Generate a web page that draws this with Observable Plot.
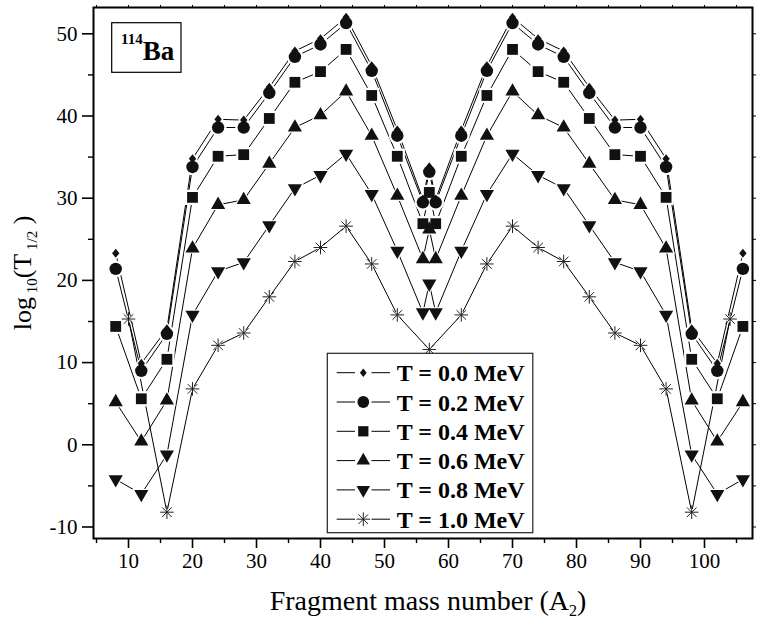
<!DOCTYPE html>
<html><head><meta charset="utf-8">
<script src="https://cdn.jsdelivr.net/npm/d3@7"></script>
<script src="https://cdn.jsdelivr.net/npm/@observablehq/plot@0.6"></script>
<style>body{margin:0;background:#fff} svg{display:block} svg text{font-family:"Liberation Serif","DejaVu Serif",serif !important;}</style>
</head><body><div id="chart"></div>
<script>
const seriesLabels = ["T = 0.0 MeV","T = 0.2 MeV","T = 0.4 MeV","T = 0.6 MeV","T = 0.8 MeV","T = 1.0 MeV"];
const massNumbers = [8,12,16,20,24,28,32,36,40,44,48,52,56,57,58,62,66,70,74,78,82,86,90,94,98,102,106];
const logT00 = [23.3,9.9,14.1,34.8,39.6,39.5,43.5,47.9,49.4,52.0,46.1,38.3,29.9,33.8,29.9,38.3,46.1,52.0,49.4,47.9,43.5,39.5,39.6,34.8,14.1,9.9,23.3];
const logT02 = [21.4,9.0,13.5,33.8,38.6,38.6,42.8,47.2,48.7,51.3,45.5,37.6,29.5,33.2,29.5,37.6,45.5,51.3,48.7,47.2,42.8,38.6,38.6,33.8,13.5,9.0,21.4];
const logT04 = [14.4,5.6,10.4,30.1,35.1,35.3,39.7,44.1,45.4,48.1,42.5,35.1,26.9,30.7,26.9,35.1,42.5,48.1,45.4,44.1,39.7,35.3,35.1,30.1,10.4,5.6,14.4];
const logT06 = [5.2,0.4,5.4,23.9,29.2,29.8,34.2,38.6,40.1,43.0,37.6,30.3,22.6,26.2,22.6,30.3,37.6,43.0,40.1,38.6,34.2,29.8,29.2,23.9,5.4,0.4,5.2];
const logT08 = [-4.2,-6.0,-1.2,15.8,21.1,22.2,26.7,31.2,32.8,35.4,30.5,23.6,16.1,19.6,16.1,23.6,30.5,35.4,32.8,31.2,26.7,22.2,21.1,15.8,-1.2,-6.0,-4.2];
const massNumbersT10 = [10,16,20,24,28,32,36,40,44,48,52,57,62,66,70,74,78,82,86,90,94,98,104];
const logT10 = [15.3,-8.2,6.8,12.1,13.6,18.0,22.3,24.0,26.6,22.0,15.8,11.6,15.8,22.0,26.6,24.0,22.3,18.0,13.6,12.1,6.8,-8.2,15.3];
const xTicks = [10,20,30,40,50,60,70,80,90,100];
const xMinorTicks = [5,15,25,35,45,55,65,75,85,95,105];
const yTicks = [-10,0,10,20,30,40,50];
const yMinorTicks = [-5,5,15,25,35,45];

// custom symbols (size = r*r*PI as passed by Plot)
const rOf = s => Math.sqrt(s / Math.PI);
const symDiamond = {draw(c, s){const r=rOf(s); c.moveTo(0,-r); c.lineTo(r*0.8,0); c.lineTo(0,r); c.lineTo(-r*0.8,0); c.closePath();}};
const symCircle = {draw(c, s){const r=rOf(s); c.moveTo(r,0); c.arc(0,0,r,0,2*Math.PI); c.closePath();}};
const symSquare = {draw(c, s){const r=rOf(s); c.moveTo(-r,-r); c.lineTo(r,-r); c.lineTo(r,r); c.lineTo(-r,r); c.closePath();}};
const symTriUp = {draw(c, s){const r=rOf(s); c.moveTo(0,-r); c.lineTo(r*0.866,r*0.5); c.lineTo(-r*0.866,r*0.5); c.closePath();}};
const symTriDown = {draw(c, s){const r=rOf(s); c.moveTo(0,r); c.lineTo(r*0.866,-r*0.5); c.lineTo(-r*0.866,-r*0.5); c.closePath();}};
const symStar = {draw(c, s){const r=rOf(s); const d=r*0.7071; c.moveTo(-r,0); c.lineTo(r,0); c.moveTo(0,-r); c.lineTo(0,r); c.moveTo(-d,-d); c.lineTo(d,d); c.moveTo(-d,d); c.lineTo(d,-d);}};

const seriesDefs = [
  {label: seriesLabels[0], xs: massNumbers, ys: logT00, sym: symDiamond, r: 4.6, filled: true},
  {label: seriesLabels[1], xs: massNumbers, ys: logT02, sym: symCircle, r: 6.2, filled: true},
  {label: seriesLabels[2], xs: massNumbers, ys: logT04, sym: symSquare, r: 5.4, filled: true},
  {label: seriesLabels[3], xs: massNumbers, ys: logT06, sym: symTriUp, r: 8.2, filled: true},
  {label: seriesLabels[4], xs: massNumbers, ys: logT08, sym: symTriDown, r: 8.2, filled: true},
  {label: seriesLabels[5], xs: massNumbersT10, ys: logT10, sym: symStar, r: 6.8, filled: false}
];
const rows = seriesDefs.flatMap(d => d.xs.map((a, i) => ({A: a, v: d.ys[i], s: d.label})));

const serif = "Liberation Serif, DejaVu Serif, serif";
const marks = [];
marks.push(Plot.line(rows, {x: "A", y: "v", z: "s", stroke: "black", strokeWidth: 1}));
for (const d of seriesDefs) {
  const sub = rows.filter(r => r.s === d.label);
  if (d.filled) marks.push(Plot.dot(sub, {x: "A", y: "v", symbol: d.sym, r: d.r + 2.2, fill: "white", stroke: "none"}));
  else marks.push(Plot.dot(sub, {x: "A", y: "v", symbol: symCircle, r: 3.5, fill: "white", stroke: "none"}));
}
for (const d of seriesDefs) {
  const sub = rows.filter(r => r.s === d.label);
  if (d.filled) marks.push(Plot.dot(sub, {x: "A", y: "v", symbol: d.sym, r: d.r, fill: "#111", stroke: "none"}));
  else marks.push(Plot.dot(sub, {x: "A", y: "v", symbol: d.sym, r: d.r, fill: "none", stroke: "#222", strokeWidth: 1}));
}
marks.push(
  Plot.axisX({ticks: xTicks, tickSize: 10, tickPadding: 5, fontSize: 21, strokeWidth: 1.6, tickFormat: d => String(d), label: null}),
  Plot.axisX({ticks: xMinorTicks, tickSize: 5, strokeWidth: 1.4, tickFormat: () => "", label: null}),
  Plot.axisX({anchor: "top", ticks: xTicks.concat(xMinorTicks), tickSize: 3, strokeWidth: 1, tickFormat: () => "", label: null}),
  Plot.axisY({ticks: yTicks, tickSize: 11, tickPadding: 5, fontSize: 21, strokeWidth: 1.6, tickFormat: d => String(d), label: null}),
  Plot.axisY({ticks: yMinorTicks, tickSize: 5, strokeWidth: 1.4, tickFormat: () => "", label: null}),
  Plot.axisY({anchor: "right", ticks: yTicks.concat(yMinorTicks), tickSize: 3, strokeWidth: 1, tickFormat: () => "", label: null}),
  Plot.frame({stroke: "black", strokeWidth: 2})
);

const chart = Plot.plot({
  width: 762, height: 623,
  marginLeft: 93, marginRight: 10, marginTop: 7, marginBottom: 85,
  x: {domain: [4.53, 107.5]},
  y: {domain: [-11.4, 53.2]},
  style: {fontFamily: serif, fontSize: "21px", background: "white", color: "black"},
  marks
});
document.getElementById("chart").appendChild(chart);

const svg = d3.select(chart);
// x title
const xt = svg.append("text").attr("x", 428).attr("y", 610).attr("text-anchor", "middle")
  .attr("font-size", 28).attr("fill", "black");
xt.append("tspan").text("Fragment mass number (A");
xt.append("tspan").attr("font-size", 16).attr("dy", 6).text("2");
xt.append("tspan").attr("dy", -6).text(")");
// y title
const yt = svg.append("text").attr("transform", "translate(31,273) rotate(-90)").attr("text-anchor", "middle")
  .attr("font-size", 26).attr("fill", "black");
yt.append("tspan").text("log");
yt.append("tspan").attr("font-size", 15).attr("dy", 6).text(" 10");
yt.append("tspan").attr("dy", -6).text("(T");
yt.append("tspan").attr("font-size", 15).attr("dy", 6).text(" 1/2");
yt.append("tspan").attr("dy", -6).text(" )");
// nucleus label box
svg.append("rect").attr("x", 111.7).attr("y", 22.7).attr("width", 69.3).attr("height", 49.6)
  .attr("fill", "white").attr("stroke", "black").attr("stroke-width", 1.2);
const bt = svg.append("text").attr("x", 121).attr("y", 59.5).attr("text-anchor", "start")
  .attr("font-weight", "bold").attr("fill", "black");
bt.append("tspan").attr("font-size", 15).attr("dy", -16).text("114");
bt.append("tspan").attr("font-size", 27).attr("dy", 16).text("Ba");
// legend
const lg = svg.append("g");
lg.append("rect").attr("x", 327.3).attr("y", 353.3).attr("width", 205.5).attr("height", 179.4)
  .attr("fill", "white").attr("stroke", "#222").attr("stroke-width", 1.2);
seriesDefs.forEach((d, i) => {
  const y = 372.7 + i * 29.3;
  lg.append("line").attr("x1", 336.7).attr("x2", 355).attr("y1", y).attr("y2", y).attr("stroke", "black").attr("stroke-width", 1);
  lg.append("line").attr("x1", 371.5).attr("x2", 390).attr("y1", y).attr("y2", y).attr("stroke", "black").attr("stroke-width", 1);
  const rr = d === seriesDefs[0] ? 4.2 : (d.filled ? d.r * 0.95 : d.r);
  lg.append("path").attr("transform", `translate(363.3,${y})`)
    .attr("d", d3.symbol(d.sym, rr * rr * Math.PI)())
    .attr("fill", d.filled ? "#111" : "none").attr("stroke", d.filled ? "none" : "#222").attr("stroke-width", 1);
  lg.append("text").attr("x", 396.7).attr("y", y + 8.5).attr("text-anchor", "start").attr("font-weight", "bold")
    .attr("font-size", 24).attr("fill", "black").text(d.label);
});
</script></body></html>
